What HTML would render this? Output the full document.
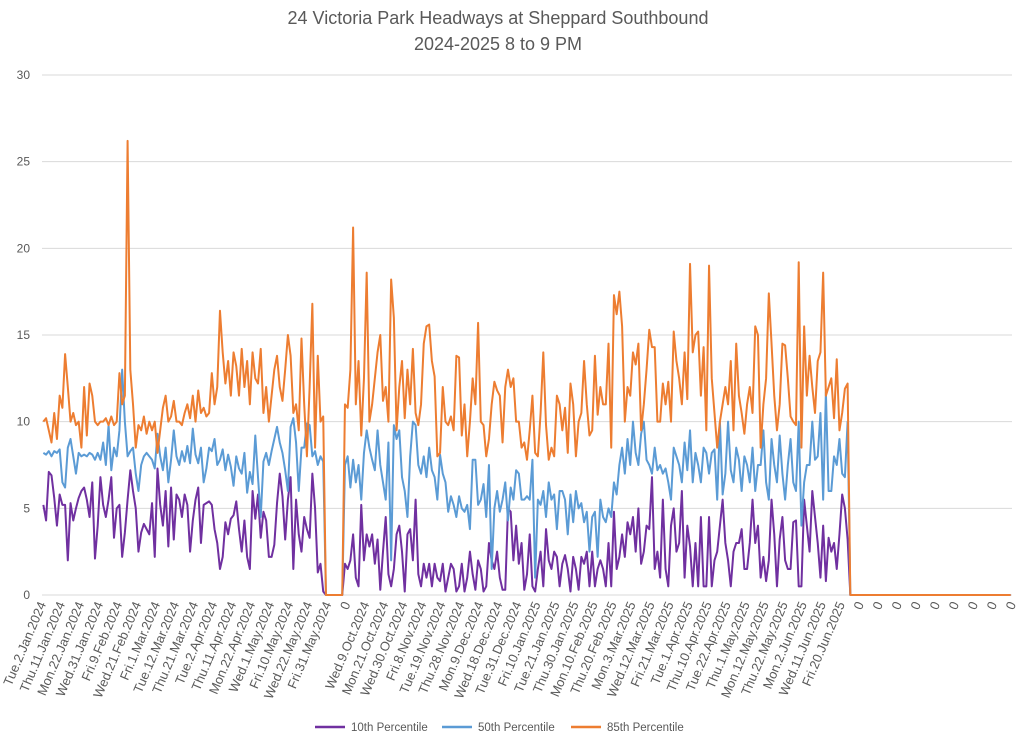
<!DOCTYPE html>
<html><head><meta charset="utf-8">
<style>
html,body{margin:0;padding:0;background:#fff;}
svg{display:block;font-family:"Liberation Sans",sans-serif;}
</style></head>
<body>
<svg id="chart" width="1024" height="744" viewBox="0 0 1024 744">
<text x="498" y="24" text-anchor="middle" font-size="18" fill="#595959">24 Victoria Park Headways at Sheppard Southbound</text>
<text x="498" y="50" text-anchor="middle" font-size="18" fill="#595959">2024-2025 8 to 9 PM</text>
<g id="grid"></g><g id="yticks"></g><g id="xticks"></g><g id="series"></g>
<g>
<g><line x1="315" y1="727" x2="345" y2="727" stroke="#7030A0" stroke-width="2.5"/><text x="351" y="731" font-size="11.5" fill="#595959">10th Percentile</text></g>
<g><line x1="442" y1="727" x2="472" y2="727" stroke="#5B9BD5" stroke-width="2.5"/><text x="478" y="731" font-size="11.5" fill="#595959">50th Percentile</text></g>
<g><line x1="571" y1="727" x2="601" y2="727" stroke="#ED7D31" stroke-width="2.5"/><text x="607" y="731" font-size="11.5" fill="#595959">85th Percentile</text></g>
</g>
</svg>
<script>
const yTicks = [0,5,10,15,20,25,30];
const tickLabels = ["Tue.2.Jan.2024","Thu.11.Jan.2024","Mon.22.Jan.2024","Wed.31.Jan.2024","Fri.9.Feb.2024","Wed.21.Feb.2024","Fri.1.Mar.2024","Tue.12.Mar.2024","Thu.21.Mar.2024","Tue.2.Apr.2024","Thu.11.Apr.2024","Mon.22.Apr.2024","Wed.1.May.2024","Fri.10.May.2024","Wed.22.May.2024","Fri.31.May.2024","0","Wed.9.Oct.2024","Mon.21.Oct.2024","Wed.30.Oct.2024","Fri.8.Nov.2024","Tue.19.Nov.2024","Thu.28.Nov.2024","Mon.9.Dec.2024","Wed.18.Dec.2024","Tue.31.Dec.2024","Fri.10.Jan.2025","Tue.21.Jan.2025","Thu.30.Jan.2025","Mon.10.Feb.2025","Thu.20.Feb.2025","Mon.3.Mar.2025","Wed.12.Mar.2025","Fri.21.Mar.2025","Tue.1.Apr.2025","Thu.10.Apr.2025","Tue.22.Apr.2025","Thu.1.May.2025","Mon.12.May.2025","Thu.22.May.2025","Mon.2.Jun.2025","Wed.11.Jun.2025","Fri.20.Jun.2025","0","0","0","0","0","0","0","0","0"];
const p10 = [5.2,4.3,7.1,6.9,5.6,4,5.8,5.2,5.2,2,5.3,4.3,5,5.6,6,6.2,5.5,4.5,6.5,2.1,4,6.8,5.2,4.5,5.5,6.8,3.3,5,5.2,2.2,3.6,5.5,7.2,6,5,2.5,3.6,4.1,3.8,3.5,5.3,2.2,7.3,5.2,4,6,2.8,6.2,3.2,5.8,5.5,4.5,5.8,5.2,2.5,4.3,5.5,6.2,3,5.2,5.3,5.4,5.2,3.8,3.0,1.5,2.2,4.2,3.5,4.4,4.6,5.4,3.8,2.5,4.3,2.2,1.5,6.0,4.4,5.8,3.3,4.8,4.3,2.2,2.2,2.9,5.3,7.0,5.7,3.2,5.5,6.8,1.5,5.5,3.5,2.5,4.5,3.8,3.3,7.0,5.0,1.3,1.8,0.2,
0,0,0,0,0,0,0,
1.8,1.5,2,3.5,1,0.5,5.2,2,3.5,2.8,3.5,1.8,3.2,0.3,2.5,4.5,1.2,0.5,1.5,3.5,4,2.5,0.2,3.5,3.8,2,5.5,1.2,0.5,1.8,1,1.8,0.5,1.8,1,0.8,1.8,0.2,1,1.8,1.5,0.2,0.5,1.8,0.2,1,2.5,1.2,0.3,2,1.5,0.2,0.5,3,2,1.5,2.5,1,0.3,0.3,5,
4.8,2,4,1.8,3,0.3,1.2,3.5,0.5,0.2,1.5,2.5,0.5,3.8,2,1.5,2.5,2.2,0.5,1.8,2.3,1.5,0.2,2.2,1.5,0.3,2.2,1.8,2.5,0.5,2.5,0.5,1.5,2,1.5,0.5,3,0.5,4.8,1.5,2.2,3.5,2.2,4.2,3.5,4.5,2.5,5,1.8,2.5,4,3.8,6.8,1.5,2.5,1,5.5,1.5,0.5,4,5,2.5,3,6,1,4,2.8,
0.5,3,0.5,4.5,0.5,0.5,4.5,0.5,2,2.5,4,5.5,3,2,0.5,2.5,3,3,3.8,1.5,1.5,3,5.5,3,4,1,2.2,0.8,2,5.5,3.5,0.5,3.2,4.5,2,1.5,1.5,4.2,4.3,0.5,0.5,5.5,4,2.5,6,4.5,3,1,4,0.8,3.3,2.5,3,1.5,3.5,5.8,5,3.2,
0,0,0,0,0,0,0,0,0,0,0,0,0,0,0,0,0,0,0,0,0,0,0,0,0,0,0,0,0,0,0,0,0,0,0,0,0,0,0,0,0,0,0,0,0,0,0,0,0,0,0,0,0,0,0,0,0,0,0,0];
const p50 = [8.2,8.1,8.3,8.0,8.3,8.2,8.4,6.5,6.2,8.5,9,8,7,8.2,8,8.1,8,8.2,8.1,7.8,8.2,7.8,8.8,7.5,9.8,7.2,8.5,8,9.5,13,10,8,8.3,8.5,7,6,7.5,8,8.2,8,7.8,7.3,9.3,8,7.2,8.5,6.5,7.8,9.5,8,7.5,8.3,7.7,8.6,7.6,9.6,8.1,7.6,8.5,6.5,7.3,8.5,8.3,9,7.5,7.8,8.4,7.2,8.1,7.4,6.3,8.0,7.3,7.0,8.2,5.9,7.1,6.4,9.2,6.8,4.5,7.7,8.2,7.5,8.3,9.0,9.7,8.8,8.2,7.2,6.0,9.7,10.2,8.8,6.0,8.5,8.5,9.9,9.8,8.0,8.3,7.5,8.0,7.7,
0,0,0,0,0,0,0,
7.5,8,6.2,7.8,6.5,7.5,5.5,8.2,9.5,8.5,7.8,7.2,9.5,7.5,6.5,5.5,8.8,2,9.8,9,9.5,6.8,6,4.5,8,10,9.8,7.5,7,8,6.8,8.5,7.2,6.8,5.5,8.1,7,6.5,4.8,5.7,5.2,4.5,5.7,5,4.8,5.2,3.8,7.8,7.8,5.2,5.5,6.4,4.5,7.5,1.5,5,6,4.8,5.5,6.5,4.3,
6.2,5.5,7.2,7,5.5,5.5,5.7,5.5,7.8,1,5.5,5.2,6,4.5,6.5,5.5,5.8,3.8,6,6,5.5,3.5,5.8,4.2,6,5,5.3,4.2,4.8,2.5,4.5,4.8,2.2,5.5,4.5,4.2,5,4.5,6.5,5.8,7.5,8.5,7,9,7.5,10,8.2,7.5,9.3,10,7.8,7.5,7,8.5,7.2,7.5,7,7.3,6.5,5.5,8.5,8,7.5,6.5,8.8,7.2,9.5,
6.5,8.2,7.5,6.5,8.5,8.2,7,8.2,8.4,5.5,10,5.8,7,10,7.2,6.5,8.5,7.8,6,8,7.5,6.5,8.5,6,7.5,7.5,9.5,6.5,5.5,9,7.5,6.5,9.2,7,5.5,7.5,9,6.5,6,10,4,6.5,7.5,7.5,10,7.8,8,10.5,5.5,11.7,6,6,8,7.5,9,7,6.8,10,
0,0,0,0,0,0,0,0,0,0,0,0,0,0,0,0,0,0,0,0,0,0,0,0,0,0,0,0,0,0,0,0,0,0,0,0,0,0,0,0,0,0,0,0,0,0,0,0,0,0,0,0,0,0,0,0,0,0,0,0];
const p85 = [10,10.2,9.5,8.8,10.5,9,11.5,10.8,13.9,12,10,10.5,9.8,10,8.5,12,9.2,12.2,11.5,10,9.8,10,10,10.2,9.8,10.3,9.8,10,12.8,11,11.5,26.2,13,11,8.5,9.8,9.5,10.3,9.3,10,9.5,10,8.2,9.5,10.8,11.5,10,10.3,11.2,10,10,9.8,10.5,11,10.2,11.5,10,11.8,10.5,10.8,10.3,10.5,12.8,11,12,16.4,14,12.2,13.5,11.5,14,13.2,11.5,14.2,12,13.5,11,14,12.5,12.2,14.2,10.5,12,10,11.5,13,13.8,12,11.2,13,15,13.8,10.5,11,9.5,14.8,11,8,12,16.8,8.5,13.8,10,10.3,
0,0,0,0,0,0,0,
11,10.8,13,21.2,11,13.5,9.2,12.5,18.6,10,11,12.5,14,15,11.2,12,10,18.2,16,9.5,12,13.5,10.2,13,11,14.2,10.5,9.8,11,14.5,15.5,15.6,13.5,12.6,8,8.2,12,10,9.8,10.3,9.5,13.8,13.7,9.2,11,8,10,12.5,11,15.7,10,9.8,8,9,11,12.3,11.8,11.5,8.8,12,13,
12,12.5,10,10,8.5,8.8,7.8,9.5,11.5,8.2,8,10.5,14,9.8,7.8,8.5,8,11.5,11,9.5,10.8,8.2,12.2,11,8,10,10.5,13.5,11,9.2,9.5,13.8,10.4,12,11,11,14.5,8.5,17.3,16.2,17.5,15.5,10,12,11.5,14,13.3,14.5,9.5,11,13,15.3,14.3,14.3,10,10,12.2,11,12.3,10,15.2,13.5,12.5,11,14,11.3,19.1,
14,15,15.2,11.5,14.3,9.5,19,12.5,10.5,8.5,10,11,12,11,13.5,9.5,14.5,11.5,10.5,9.3,11,12,10.5,15.5,15,8.5,11,12.5,17.4,14.5,11.5,9.5,11,14.5,14.4,12.5,10.3,10,9.8,19.2,8.5,15.5,11.5,13.8,12,10.5,13.5,14,18.6,11.5,12,12.5,10.2,13.6,9.5,10.5,11.9,12.2,
0,0,0,0,0,0,0,0,0,0,0,0,0,0,0,0,0,0,0,0,0,0,0,0,0,0,0,0,0,0,0,0,0,0,0,0,0,0,0,0,0,0,0,0,0,0,0,0,0,0,0,0,0,0,0,0,0,0,0,0];

const NS = "http://www.w3.org/2000/svg";
const X0 = 42, X1 = 1012, Y0 = 595, YTOP = 75, YMAX = 30;
const N = p85.length;
const step = (X1 - X0) / N;
function xAt(i){ return X0 + (i + 0.5) * step; }
function yAt(v){ return Y0 - (v / YMAX) * (Y0 - YTOP); }

const grid = document.getElementById('grid');
const yt = document.getElementById('yticks');
yTicks.forEach(v => {
  const l = document.createElementNS(NS, 'line');
  l.setAttribute('x1', X0); l.setAttribute('x2', X1);
  l.setAttribute('y1', yAt(v)); l.setAttribute('y2', yAt(v));
  l.setAttribute('stroke', '#d9d9d9'); l.setAttribute('stroke-width', '1');
  
  
  grid.appendChild(l);
  const t = document.createElementNS(NS, 'text');
  t.setAttribute('x', 30); t.setAttribute('y', yAt(v) + 4);
  t.setAttribute('text-anchor', 'end'); t.setAttribute('font-size', '12'); t.setAttribute('fill', '#595959');
  t.textContent = v;
  
  
  yt.appendChild(t);
});

const xt = document.getElementById('xticks');
tickLabels.forEach((lab, k) => {
  const x = xAt(k * 7);
  const t = document.createElementNS(NS, 'text');
  t.setAttribute('transform', 'translate(' + (x + 3) + ',604) rotate(-67)');
  t.setAttribute('text-anchor', 'end'); t.setAttribute('font-size', '13'); t.setAttribute('fill', '#595959');
  t.textContent = lab;
  
  
  xt.appendChild(t);
});

const sg = document.getElementById('series');
[[p10,'#7030A0','series-10th-percentile'],[p50,'#5B9BD5','series-50th-percentile'],[p85,'#ED7D31','series-85th-percentile']].forEach(s => {
  const pts = s[0].map((v, i) => xAt(i).toFixed(2) + ',' + yAt(v).toFixed(2)).join(' ');
  const pl = document.createElementNS(NS, 'polyline');
  pl.setAttribute('points', pts);
  pl.setAttribute('fill', 'none'); pl.setAttribute('stroke', s[1]);
  pl.setAttribute('stroke-width', '2'); pl.setAttribute('stroke-linejoin', 'round');
  
  
  sg.appendChild(pl);
});
</script>
</body></html>
